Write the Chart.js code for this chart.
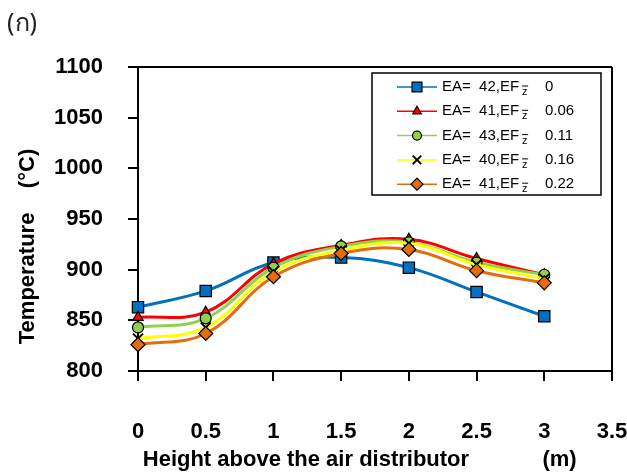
<!DOCTYPE html>
<html>
<head>
<meta charset="utf-8">
<script src="https://cdn.jsdelivr.net/npm/chart.js@4.4.0/dist/chart.umd.min.js"></script>
<style>
  html, body { margin: 0; padding: 0; background: #fff; }
  #wrap { position: relative; width: 627px; height: 475px; }
  #tag { position: absolute; left: 7px; top: 2px; font: 25px 'Noto Sans', 'DejaVu Sans', sans-serif; color: #222; }
</style>
</head>
<body>
<div id="wrap">
  <canvas id="chart" width="627" height="475"></canvas>
  <div id="tag">(ก)</div>
</div>
<script>
// height above the air distributor (m)
const heights = [0, 0.5, 1, 1.5, 2, 2.5, 3];

// temperature (°C) per run
const tempEF0    = [863, 879, 907, 912, 902, 878, 854];
const tempEF006  = [853, 858, 906, 924, 930, 911, 895];
const tempEF011  = [843, 852, 902, 923, 927, 907, 895];
const tempEF016  = [832, 843, 898, 919, 926, 905, 891];
const tempEF022  = [826, 837, 893, 916, 920, 899, 887];

const eaValues = ['42', '41', '43', '40', '41'];
const efValues = ['0', '0.06', '0.11', '0.16', '0.22'];

const yTicksMin = 800;
const yTicksMax = 1100;
const xTicksMax = 3.5;

const FONT = "'Liberation Sans', Arial, sans-serif";

const seriesStyles = [
    { line: '#0070C0', fill: '#0070C0', style: 'rect', radius: 8 },
    { line: '#FF0000', fill: '#FF0000', style: 'triangle', radius: 6 },
    { line: '#92D050', fill: '#92D050', style: 'circle', radius: 5.5 },
    { line: '#FFFF00', fill: '#FFFF00', style: 'crossRot', radius: 7 },
    { line: '#E46C0A', fill: '#E46C0A', style: 'rectRot', radius: 7 }
];

const seriesData = [tempEF0, tempEF006, tempEF011, tempEF016, tempEF022];

const datasets = seriesData.map((vals, i) => ({
    label: `EA=  ${eaValues[i]},EF z ${efValues[i]}`,
    data: heights.map((h, j) => ({ x: h, y: vals[j] })),
    borderColor: seriesStyles[i].line,
    borderWidth: 3,
    tension: 0.4,
    fill: false,
    clip: false,
    pointStyle: seriesStyles[i].style,
    pointRadius: seriesStyles[i].radius,
    pointBackgroundColor: seriesStyles[i].fill,
    pointBorderColor: '#000',
    pointBorderWidth: seriesStyles[i].style === 'crossRot' ? 2 : 1.2,
    order: 5 - i
}));

// box legend with the subscripted z-bar, as in the original figure
const boxLegend = {
    id: 'boxLegend',
    afterDraw(chart) {
        const ctx = chart.ctx;
        const left = 372, top = 73, right = 601, bottom = 195;
        ctx.save();
        ctx.fillStyle = '#fff';
        ctx.fillRect(left, top, right - left, bottom - top);
        ctx.strokeStyle = '#000';
        ctx.lineWidth = 1.5;
        ctx.strokeRect(left, top, right - left, bottom - top);

        chart.data.datasets.forEach((ds, i) => {
            const y = 87 + i * 24.3;
            ctx.strokeStyle = ds.borderColor;
            ctx.lineWidth = 1.5;
            ctx.beginPath();
            ctx.moveTo(397, y);
            ctx.lineTo(437, y);
            ctx.stroke();

            ctx.fillStyle = ds.pointBackgroundColor;
            ctx.strokeStyle = '#000';
            ctx.lineWidth = ds.pointBorderWidth;
            Chart.helpers.drawPoint(ctx, {
                pointStyle: ds.pointStyle,
                radius: ds.pointStyle === 'rect' ? 7 : ds.pointRadius - 1,
                rotation: 0,
                borderWidth: ds.pointBorderWidth
            }, 417, y);

            ctx.fillStyle = '#000';
            ctx.textBaseline = 'middle';
            ctx.textAlign = 'left';
            ctx.font = `15px ${FONT}`;
            const head = `EA=  ${eaValues[i]},EF`;
            ctx.fillText(head, 442, y);
            const w = ctx.measureText(head).width;
            ctx.font = `11px ${FONT}`;
            ctx.fillText('z', 442 + w + 3, y + 5);
            ctx.lineWidth = 1;
            ctx.beginPath();
            ctx.moveTo(442 + w + 3, y - 1);
            ctx.lineTo(442 + w + 9, y - 1);
            ctx.stroke();
            ctx.font = `15px ${FONT}`;
            ctx.fillText(efValues[i], 545, y);
        });
        ctx.restore();
    }
};

new Chart(document.getElementById('chart').getContext('2d'), {
    type: 'line',
    data: { datasets },
    options: {
        responsive: false,
        animation: false,
        layout: { padding: { top: 67, right: 15, bottom: 0, left: 0 } },
        plugins: {
            legend: { display: false },
            tooltip: { enabled: false }
        },
        scales: {
            x: {
                type: 'linear',
                min: 0,
                max: xTicksMax,
                afterFit(scale) {
                    scale.height = 104;
                    scale.paddingLeft = 0;
                    scale.paddingRight = 0;
                },
                ticks: {
                    stepSize: 0.5,
                    padding: 38,
                    color: '#000',
                    font: { family: FONT, size: 22, weight: 'bold' },
                    callback: v => String(v)
                },
                grid: {
                    drawOnChartArea: true,
                    color: c => (c.tick && c.tick.value === xTicksMax) ? '#000' : 'rgba(0,0,0,0)',
                    tickColor: '#000',
                    tickLength: 10,
                    lineWidth: 2
                },
                border: { display: true, color: '#000', width: 2 },
                title: {
                    display: true,
                    text: 'Height above the air distributor            (m)     ',
                    color: '#000',
                    font: { family: FONT, size: 22, weight: 'bold' },
                    padding: { top: 0, bottom: 2 }
                }
            },
            y: {
                min: yTicksMin,
                max: yTicksMax,
                afterFit(scale) { scale.width = 138; },
                ticks: {
                    stepSize: 50,
                    padding: 25,
                    color: '#000',
                    font: { family: FONT, size: 22, weight: 'bold' },
                    callback: v => String(v)
                },
                grid: {
                    drawOnChartArea: true,
                    color: c => (c.tick && c.tick.value === yTicksMax) ? '#000' : 'rgba(0,0,0,0)',
                    tickColor: '#000',
                    tickLength: 10,
                    lineWidth: 2
                },
                border: { display: true, color: '#000', width: 2 },
                title: {
                    display: true,
                    text: 'Temperature    (°C)         ',
                    color: '#000',
                    font: { family: FONT, size: 22, weight: 'bold' },
                    padding: { top: 15, bottom: 0 }
                }
            }
        }
    },
    plugins: [boxLegend]
});
</script>
</body>
</html>
